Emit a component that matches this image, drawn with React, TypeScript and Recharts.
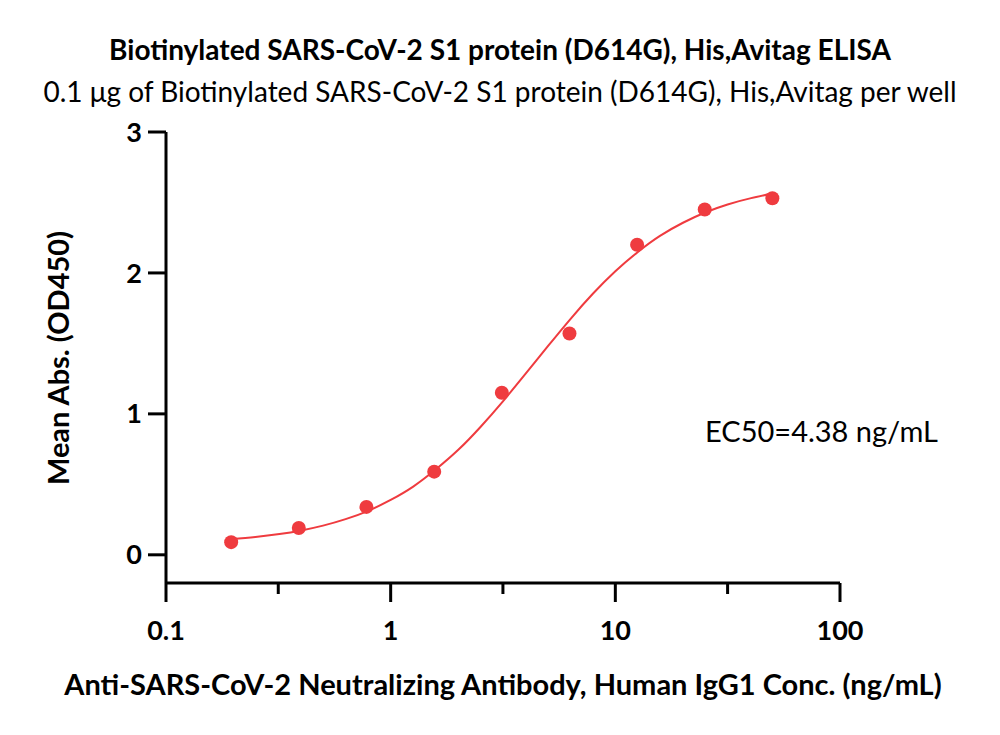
import { ComposedChart, Line, Scatter, XAxis, YAxis } from 'recharts';

// measured points (ng/mL vs OD450)
const conc = [0.195, 0.39, 0.78, 1.5625, 3.125, 6.25, 12.5, 25, 50];
const meanAbs = [0.09, 0.19, 0.34, 0.59, 1.15, 1.57, 2.2, 2.45, 2.53];

// fitted curve
const fitConc = [0.195, 0.25, 0.32, 0.4, 0.5, 0.63, 0.8, 1, 1.26, 1.58, 2, 2.51, 3.16, 3.98, 5.01, 6.31, 7.94, 10, 12.6, 15.8, 20, 25.1, 31.6, 39.8, 50];
const fitAbs = [0.111, 0.126, 0.147, 0.173, 0.207, 0.253, 0.314, 0.389, 0.484, 0.603, 0.745, 0.907, 1.089, 1.283, 1.48, 1.673, 1.852, 2.012, 2.149, 2.263, 2.356, 2.429, 2.486, 2.529, 2.563];

const xTicks = [0.1, 0.316, 1, 3.16, 10, 31.6, 100];
const xTickLabels = ['0.1', '', '1', '', '10', '', '100'];
const yTicks = [0, 1, 2, 3];

const RED = '#ef3b3f';
const FONT = 'Lato, "Open Sans", sans-serif';

const points = conc.map((c, i) => ({ x: c, y: meanAbs[i] }));
const curve = fitConc.map((c, i) => ({ x: c, y: fitAbs[i] }));

function XTick(props: any) {
  const { x, y, payload } = props;
  const i = xTicks.indexOf(payload.value);
  const label = xTickLabels[i];
  return (
    <g>
      <line x1={x} x2={x} y1={y} y2={y + (label ? 19 : 11)} stroke="#000" strokeWidth={3} />
      {label && (
        <text x={x} y={y + 57} textAnchor="middle" fontSize={27} fontWeight={700} fontFamily={FONT} fill="#000">
          {label}
        </text>
      )}
    </g>
  );
}

export default function App() {
  return (
    <div style={{ position: 'absolute', left: 0, top: 0, width: 1000, height: 735, background: '#fff', fontFamily: FONT }}>
      <div style={{ position: 'absolute', top: 32, width: 1000, textAlign: 'center', fontSize: 28, fontWeight: 700 }}>
        Biotinylated SARS-CoV-2 S1 protein (D614G), His,Avitag ELISA
      </div>
      <div style={{ position: 'absolute', top: 74, width: 1000, textAlign: 'center', fontSize: 28 }}>
        0.1 μg of Biotinylated SARS-CoV-2 S1 protein (D614G), His,Avitag per well
      </div>
      <ComposedChart width={1000} height={735} margin={{ top: 132, right: 160, bottom: 72, left: 106 }}>
        <XAxis
          dataKey="x"
          type="number"
          scale="log"
          domain={[0.1, 100]}
          ticks={xTicks}
          interval={0}
          allowDataOverflow
          height={80}
          tickSize={0}
          tickMargin={0}
          tick={<XTick />}
          axisLine={{ stroke: '#000', strokeWidth: 3 }}
          label={{
            value: 'Anti-SARS-CoV-2 Neutralizing Antibody, Human IgG1 Conc. (ng/mL)',
            position: 'insideBottom',
            offset: -32,
            fontSize: 29,
            fontWeight: 700,
            fill: '#000',
            fontFamily: FONT,
          }}
        />
        <YAxis
          type="number"
          domain={[-0.2, 3]}
          ticks={yTicks}
          interval={0}
          allowDataOverflow
          width={60}
          tickSize={18}
          tickMargin={6}
          tickLine={{ stroke: '#000', strokeWidth: 3 }}
          axisLine={{ stroke: '#000', strokeWidth: 3 }}
          tick={{ fontSize: 27, fontWeight: 700, fill: '#000', fontFamily: FONT }}
        />
        <Line
          data={curve}
          dataKey="y"
          type="natural"
          stroke={RED}
          strokeWidth={2}
          dot={false}
          activeDot={false}
          isAnimationActive={false}
        />
        <Scatter data={points} dataKey="y" fill={RED} shape={(p: any) => <circle cx={p.cx} cy={p.cy} r={7} fill={RED} />} isAnimationActive={false} />
      </ComposedChart>
      <div
        style={{
          position: 'absolute',
          left: 57,
          top: 358,
          transform: 'translate(-50%, -50%) rotate(-90deg)',
          whiteSpace: 'nowrap',
          fontSize: 29,
          fontWeight: 700,
        }}
      >
        Mean Abs. (OD450)
      </div>
      <div style={{ position: 'absolute', left: 705, top: 413, fontSize: 29 }}>EC50=4.38 ng/mL</div>
    </div>
  );
}
